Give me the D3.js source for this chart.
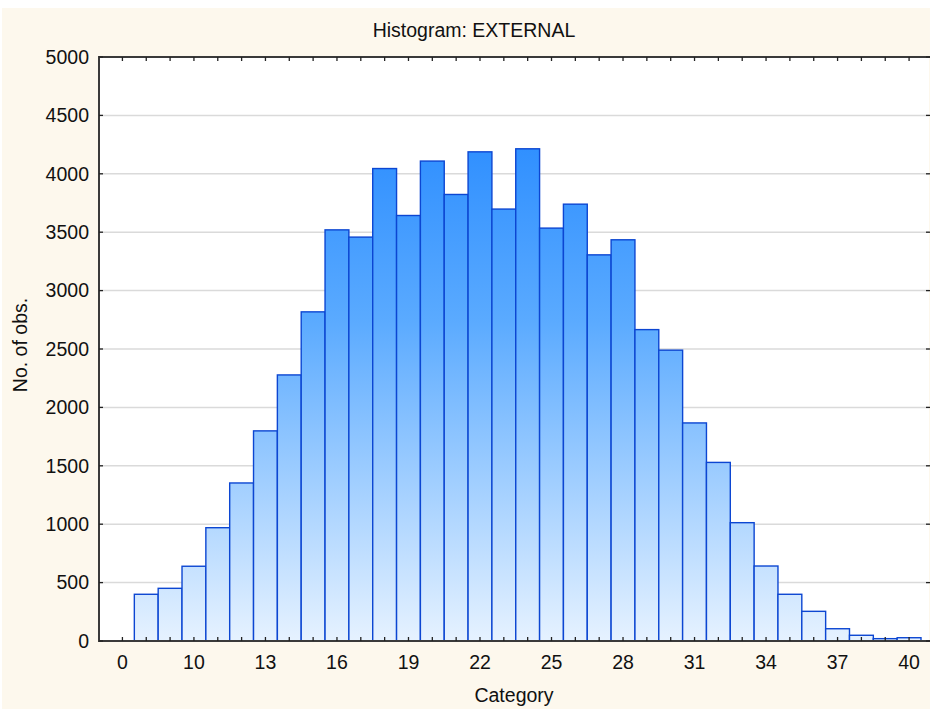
<!DOCTYPE html>
<html>
<head>
<meta charset="utf-8">
<script src="https://cdn.jsdelivr.net/npm/d3@7"></script>
<style>
  html, body { margin: 0; padding: 0; background: #ffffff; }
  svg { display: block; }
  text { font-family: "Liberation Sans", Arial, sans-serif; fill: #111; }
</style>
</head>
<body>
<svg id="chart" width="930" height="711"></svg>
<script>
// ---- data ----
const categories = ["0","8","9","10","11","12","13","14","15","16","17","18","19","20","21","22","23","24","25","26","27","28","29","30","31","32","33","34","35","36","37","38","39","40"];
const counts = [0, 400, 451, 640, 970, 1353, 1799, 2278, 2818, 3520, 3458, 4045, 3643, 4109, 3823, 4188, 3698, 4214, 3535, 3740, 3306, 3435, 2666, 2490, 1867, 1529, 1013, 642, 400, 254, 105, 49, 20, 28];
const xTickLabels = ["0","10","13","16","19","22","25","28","31","34","37","40"];
const yTicks = [0, 500, 1000, 1500, 2000, 2500, 3000, 3500, 4000, 4500, 5000];
const title = "Histogram: EXTERNAL";
const xTitle = "Category";
const yTitle = "No. of obs.";

// ---- layout ----
const W = 930, H = 711;
const plot = { left: 99, right: 929, top: 57, bottom: 641 };
const FS = 19.5;

const svg = d3.select("#chart");

// background
svg.append("rect").attr("x", 0).attr("y", 0).attr("width", W).attr("height", H).attr("fill", "#ffffff");
svg.append("rect").attr("x", 2).attr("y", 8).attr("width", W - 2).attr("height", H - 10).attr("fill", "#fdf8ed");
svg.append("rect").attr("x", plot.left).attr("y", plot.top)
   .attr("width", plot.right - plot.left).attr("height", plot.bottom - plot.top).attr("fill", "#ffffff");

// scales
const x = d3.scaleBand().domain(categories).range([110.5, 921]).paddingInner(0).paddingOuter(0);
const y = d3.scaleLinear().domain([0, 5000]).range([plot.bottom, plot.top]);

// gradient
const defs = svg.append("defs");
const grad = defs.append("linearGradient").attr("id", "barGrad")
  .attr("gradientUnits", "userSpaceOnUse")
  .attr("x1", 0).attr("x2", 0).attr("y1", y(5000)).attr("y2", y(0));
grad.append("stop").attr("offset", "0%").attr("stop-color", "#1a82ff");
grad.append("stop").attr("offset", "45%").attr("stop-color", "#5aaaff");
grad.append("stop").attr("offset", "100%").attr("stop-color", "#e6f2ff");

// gridlines
svg.append("g").selectAll("line")
  .data(yTicks.filter(v => v > 0 && v < 5000))
  .join("line")
  .attr("x1", plot.left).attr("x2", plot.right)
  .attr("y1", d => y(d)).attr("y2", d => y(d))
  .attr("stroke", "#dadada").attr("stroke-width", 1.5);

// bars
svg.append("g").selectAll("rect")
  .data(categories.map((c, i) => ({ c, v: counts[i] })))
  .join("rect")
  .attr("x", d => x(d.c))
  .attr("y", d => y(d.v))
  .attr("width", x.bandwidth())
  .attr("height", d => y(0) - y(d.v))
  .attr("fill", "url(#barGrad)")
  .attr("stroke", "#0c46d2")
  .attr("stroke-width", 1.4);

// axes labels
const xAxis = d3.axisBottom(x)
  .tickValues(xTickLabels)
  .tickSize(0)
  .tickPadding(14);
const gx = svg.append("g").attr("transform", `translate(0,${plot.bottom})`).call(xAxis);
gx.select(".domain").remove();
gx.selectAll("text").style("font-size", FS + "px").style("font-family", "'Liberation Sans', Arial, sans-serif").attr("fill", "#111");

const yAxis = d3.axisLeft(y).tickValues(yTicks).tickFormat(d3.format("d")).tickSize(0).tickPadding(10);
const gy = svg.append("g").attr("transform", `translate(${plot.left},0)`).call(yAxis);
gy.select(".domain").remove();
gy.selectAll("text").style("font-size", FS + "px").style("font-family", "'Liberation Sans', Arial, sans-serif").attr("fill", "#111");

// axis lines
const axisColor = "#3a3a3a";
const axG = svg.append("g");
axG.append("line").attr("x1", plot.left).attr("x2", plot.left).attr("y1", plot.top - 1).attr("y2", plot.bottom + 1)
  .attr("stroke", axisColor).attr("stroke-width", 2);
axG.append("line").attr("x1", plot.left).attr("x2", plot.right + 1).attr("y1", plot.bottom).attr("y2", plot.bottom)
  .attr("stroke", axisColor).attr("stroke-width", 2);
axG.append("line").attr("x1", plot.left).attr("x2", plot.right + 1).attr("y1", plot.top).attr("y2", plot.top)
  .attr("stroke", axisColor).attr("stroke-width", 2);

// category ticks (bottom and top, inward)
const tickG = svg.append("g").attr("stroke", "#222").attr("stroke-width", 1.3);
categories.forEach(c => {
  const cx = x(c) + x.bandwidth() / 2;
  tickG.append("line").attr("x1", cx).attr("x2", cx).attr("y1", plot.bottom).attr("y2", plot.bottom - 4);
  tickG.append("line").attr("x1", cx).attr("x2", cx).attr("y1", plot.top).attr("y2", plot.top + 4);
});
// y ticks left and right, inward
yTicks.forEach(v => {
  tickG.append("line").attr("x1", plot.left).attr("x2", plot.left + 4).attr("y1", y(v)).attr("y2", y(v));
  tickG.append("line").attr("x1", plot.right - 3).attr("x2", plot.right + 1).attr("y1", y(v)).attr("y2", y(v));
});

// titles
svg.append("text").attr("x", 474).attr("y", 37).attr("text-anchor", "middle")
  .style("font-size", FS + "px").text(title);
svg.append("text").attr("x", (plot.left + plot.right) / 2).attr("y", 702).attr("text-anchor", "middle")
  .style("font-size", FS + "px").text(xTitle);
svg.append("text").attr("transform", `translate(27,${(plot.top + plot.bottom) / 2 - 4}) rotate(-90)`)
  .attr("text-anchor", "middle")
  .style("font-size", FS + "px").text(yTitle);
</script>
</body>
</html>
